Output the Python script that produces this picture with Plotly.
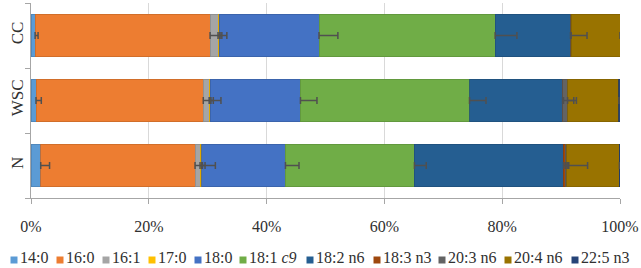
import plotly.graph_objects as go
import numpy as np

groups = ['N', 'WSC', 'CC']
acids = ['14:0', '16:0', '16:1', '17:0', '18:0', '18:1 <i>c9</i>', '18:2 n6',
         '18:3 n3', '20:3 n6', '20:4 n6', '22:5 n3']
colors = ['#5B9BD5', '#ED7D31', '#A5A5A5', '#FFC000', '#4472C4', '#70AD47',
          '#255E91', '#9E480E', '#636363', '#997300', '#264478']

# values (%) for [N, WSC, CC]
v_14_0 = [1.65, 0.85, 0.7]
v_16_0 = [26.2, 28.4, 29.7]
v_16_1 = [0.85, 1.0, 1.35]
v_17_0 = [0.3, 0.2, 0.25]
v_18_0 = [14.2, 15.3, 16.9]
v_18_1 = [21.9, 28.7, 29.9]
v_18_2 = [25.3, 15.8, 12.8]
v_18_3 = [0.3, 0.05, 0.05]
v_20_3 = [0.3, 0.8, 0.05]
v_20_4 = [8.9, 8.7, 8.3]
v_22_5 = [0.1, 0.2, 0.1]

# errors (%) for [N, WSC, CC]
e_14_0 = [1.5, 0.9, 0.5]
e_16_0 = [1.7, 1.7, 2.0]
e_16_1 = [2.6, 2.0, 1.5]
e_17_0 = [0.1, 0.1, 0.1]
e_18_0 = [2.3, 2.8, 3.2]
e_18_1 = [2.0, 2.8, 3.7]
e_18_2 = [4.1, 1.9, 2.8]
e_18_3 = [0.6, 0.1, 0.0]
e_20_3 = [0.1, 1.5, 0.0]
e_20_4 = [1.3, 1.2, 1.4]
e_22_5 = [0.2, 0.2, 0.1]

tick_vals = [0, 20, 40, 60, 80, 100]
tick_text = ['0%', '20%', '40%', '60%', '80%', '100%']

values = [v_14_0, v_16_0, v_16_1, v_17_0, v_18_0, v_18_1, v_18_2, v_18_3, v_20_3, v_20_4, v_22_5]
errors = [e_14_0, e_16_0, e_16_1, e_17_0, e_18_0, e_18_1, e_18_2, e_18_3, e_20_3, e_20_4, e_22_5]

# layout constants
W, H = 641, 268
ML, MR, MT, MB = 31, 21, 3, 70
legend_px = [14, 60, 106, 152, 198, 243, 310, 377, 442, 508, 575]  # square centres (px)
legend_sq_py = 260
legend_txt_py = 257.5
font = 'Liberation Serif, Times New Roman, serif'
txt_col = '#303030'


def darken(hexcol, f=0.85):
    r, g, b = (int(hexcol[i:i + 2], 16) for i in (1, 3, 5))
    return '#%02x%02x%02x' % (int(r * f), int(g * f), int(b * f))


fig = go.Figure()
for name, vals, col in zip(acids, values, colors):
    fig.add_trace(go.Bar(
        y=groups, x=vals, name=name, orientation='h', showlegend=False,
        marker=dict(color=col, line=dict(width=0.8, color=darken(col))),
    ))

# error bars drawn on top (plus direction, at the end of each stacked segment)
cum = np.cumsum(np.array(values), axis=0)
for ends, errs in zip(cum, errors):
    fig.add_trace(go.Scatter(
        y=groups, x=list(ends), mode='markers', showlegend=False, hoverinfo='skip',
        marker=dict(size=1, opacity=0), cliponaxis=False,
        error_x=dict(type='data', array=errs, arrayminus=[0] * len(errs), symmetric=False,
                     color='#505050', thickness=1.5, width=3.5),
    ))

pw = W - ML - MR
ph = H - MT - MB
for name, col, px in zip(acids, colors, legend_px):
    x0 = (px - 3.5 - ML) / pw
    x1 = (px + 3.5 - ML) / pw
    y0 = (H - MB - (legend_sq_py + 3.5)) / ph
    y1 = (H - MB - (legend_sq_py - 3.5)) / ph
    fig.add_shape(type='rect', xref='paper', yref='paper', x0=x0, x1=x1, y0=y0, y1=y1,
                  fillcolor=col, line=dict(width=0))
    fig.add_annotation(xref='paper', yref='paper', x=(px + 5 - ML) / pw,
                       y=(H - MB - legend_txt_py) / ph, xanchor='left', yanchor='middle',
                       text=name, showarrow=False, borderpad=0,
                       font=dict(family=font, size=16, color=txt_col))

fig.update_layout(
    barmode='stack', bargap=0.34,
    width=W, height=H,
    margin=dict(l=ML, r=MR, t=MT, b=MB),
    paper_bgcolor='white', plot_bgcolor='white',
    font=dict(family=font, size=16, color=txt_col),
    showlegend=False,
    xaxis=dict(range=[0, 100], tickvals=tick_vals, ticktext=tick_text, automargin=False,
               showgrid=True, gridcolor='#D9D9D9', gridwidth=1,
               showline=True, linecolor='#A6A6A6', linewidth=1,
               ticks='outside', ticklen=5, tickcolor='#A6A6A6', zeroline=False,
               ticklabelstandoff=9,
               tickfont=dict(family=font, size=16, color=txt_col)),
    yaxis=dict(categoryorder='array', categoryarray=groups, automargin=False,
               showline=True, linecolor='#A6A6A6', linewidth=1,
               ticks='outside', ticklen=5, tickcolor='#A6A6A6', tickson='boundaries',
               tickangle=-90, tickfont=dict(family=font, size=17, color=txt_col),
               showgrid=False),
)

fig.write_html('out.html', config={'displayModeBar': False, 'staticPlot': True},
               post_script="document.body.style.margin='0';document.body.style.padding='0';"
                           "document.body.style.overflow='hidden';")
